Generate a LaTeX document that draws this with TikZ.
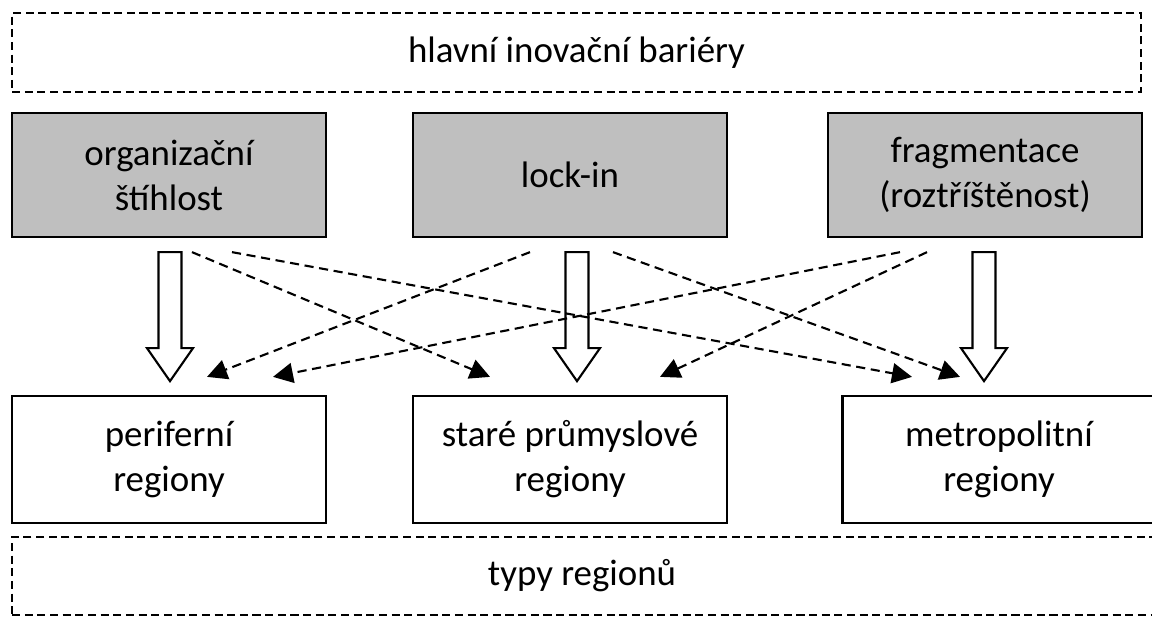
\documentclass[tikz,border=0pt]{standalone}
\usepackage{fontspec}
\setmainfont{Carlito}
\usetikzlibrary{arrows.meta}
\tikzset{
  frame/.style={draw, dash pattern=on 4.6pt off 2.6pt, line width=1.2pt},
  barrier/.style={draw, fill=black!25, line width=1.3pt, minimum width=6.28cm, minimum height=2.48cm, align=center},
  region/.style={draw, fill=white, line width=1.3pt, minimum width=6.28cm, minimum height=2.54cm, align=center},
  link/.style={dash pattern=on 5.2pt off 3.2pt, line width=1.2pt, -{Triangle[length=0.4cm,width=0.4cm]}},
  fatarrow/.style={draw, fill=white, line width=1.2pt}
}

\begin{document}
\begin{tikzpicture}[x=0.02cm, y=-0.02cm, font=\fontsize{21}{25.6}\selectfont]
\useasboundingbox (0,0) rectangle (1152,616);
\clip (0,0) rectangle (1152,616);

% Frames
\node[frame, minimum width=22.58cm, minimum height=1.58cm] (barriers) at (576.5,52.5) {hlavní inovační bariéry};
\node[frame, minimum width=23.2cm, minimum height=1.56cm]  (types)    at (592,576)    {};
\node (typestext) at (582,576) {typy regionů};

% Barriers
\node[barrier] (org)  at (169,175) {organizační\\štíhlost};
\node[barrier] (lock) at (570,175) {lock-in};
\node[barrier] (frag) at (985,175) {fragmentace\\(roztříštěnost)};

% Regions
\node[region, minimum width=6.5cm] (metro) at (1005,459.5) {};
\node[region] (peri)  at (169,459.5) {periferní\\regiony};
\node[region] (stare) at (570,459.5) {staré průmyslové\\regiony};
\node (metrotext) at (999,459.5) [align=center] {metropolitní\\regiony};

\path % start points below the barriers
  (org.south)  +(23,14)  coordinate (orgL)
               +(63,14)  coordinate (orgR)
  (lock.south) +(-40,14) coordinate (lockL)
               +(43,14)  coordinate (lockR)
  (frag.south) +(-85,14) coordinate (fragL)
               +(-58,14) coordinate (fragR)
  ;
\path % end points above the regions
  (peri.north)  +(38,-18)  coordinate (periL)
                +(104,-18) coordinate (periR)
  (stare.north) +(-80,-18) coordinate (stareL)
                +(90,-18)  coordinate (stareR)
  (metrotext |- metro.north) +(-87,-18) coordinate (metroL)
                +(-39,-18) coordinate (metroR)
  ;

% Main effects
\foreach \n/\dx in {org/1, lock/7, frag/-1}
  \draw[fatarrow] ([shift={(\dx-11.5,14)}]\n.south) -- ++(23,0) -- ++(0,96) -- ++(11.5,0)
    -- ++(-23,33) -- ++(-23,-33) -- ++(11.5,0) -- cycle;

% Side effects
\draw[link] (orgL)  -- (stareL);
\draw[link] (orgR)  -- (metroL);
\draw[link] (lockL) -- (periL);
\draw[link] (lockR) -- (metroR);
\draw[link] (fragL) -- (periR);
\draw[link] (fragR) -- (stareR);

\end{tikzpicture}
\end{document}
